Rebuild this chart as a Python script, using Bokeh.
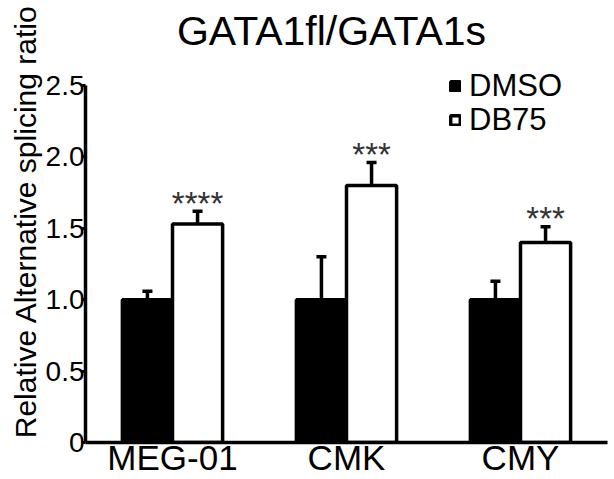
from bokeh.plotting import figure
from bokeh.models import (ColumnDataSource, FactorRange, Range1d, FixedTicker, Whisker,
                          TeeHead, Label, Legend, LegendItem)
from bokeh.transform import dodge
from bokeh.core.properties import value
from bokeh.embed import file_html
from bokeh.resources import INLINE

# ---- data ----
cells = ["MEG-01", "CMK", "CMY"]
dmso = [1.0, 1.0, 1.0]
dmso_err = [0.06, 0.30, 0.13]
db75 = [1.53, 1.80, 1.40]
db75_err = [0.09, 0.16, 0.11]
stars = ["****", "***", "***"]
y_ticks = [0, 0.5, 1.0, 1.5, 2.0, 2.5]
y_tick_labels = ["0", "0.5", "1.0", "1.5", "2.0", "2.5"]
title_text = "GATA1fl/GATA1s"
y_label = "Relative Alternative splicing ratio"
series_names = ["DMSO", "DB75"]

FONT = "Liberation Sans"

# ---- layout (pixels) ----
W, H = 614, 479
LEFT, RIGHT, BOTTOM = 85, 7, 37
FRAME_H = H - BOTTOM            # frame spans the whole height above the x axis
AXIS_TOP_PX = 85                # where 2.5 sits
Y_MAX = 2.5
y_end = Y_MAX * FRAME_H / (FRAME_H - AXIS_TOP_PX)

src = ColumnDataSource(dict(
    cell=cells,
    dmso=dmso,
    dmso_up=[v + e for v, e in zip(dmso, dmso_err)],
    db75=db75,
    db75_up=[v + e for v, e in zip(db75, db75_err)],
    stars=stars,
))

p = figure(width=W, height=H, x_range=FactorRange(*cells, range_padding=0),
           y_range=Range1d(0, y_end), output_backend="svg", toolbar_location=None,
           min_border_left=LEFT, min_border_right=RIGHT, min_border_top=0,
           min_border_bottom=BOTTOM)
p.outline_line_color = None
p.grid.visible = False
p.background_fill_color = "white"

off = 0.144
bw = 0.288
r_dmso = p.vbar(x=dodge("cell", -off, range=p.x_range), top="dmso", width=bw, source=src,
                fill_color="black", line_color="black", line_width=3.5)
r_db75 = p.vbar(x=dodge("cell", off, range=p.x_range), top="db75", width=bw, source=src,
                fill_color="white", line_color="black", line_width=3.5)

for key, o in (("dmso", -off), ("db75", off)):
    w = Whisker(base=dodge("cell", o, range=p.x_range), lower=key, upper=key + "_up",
                source=src, line_width=3.5, line_color="black", lower_head=None,
                upper_head=TeeHead(size=10, line_width=3.5, line_color="black"))
    p.add_layout(w)

p.text(x=dodge("cell", off, range=p.x_range), y="db75_up", text="stars", source=src,
       text_font=value(FONT), text_font_size="33px", text_color="#333333",
       text_align="center", text_baseline="alphabetic", y_offset=-8)

# axes
ya = p.yaxis[0]
ya.bounds = (0, Y_MAX)
ya.ticker = FixedTicker(ticks=y_ticks)
ya.major_label_overrides = {t: l for t, l in zip(y_ticks, y_tick_labels)}
ya.axis_line_width = 3.5
ya.major_tick_line_width = 3
ya.major_tick_out = 4
ya.major_tick_in = 0
ya.minor_tick_line_color = None
ya.major_label_standoff = -3
ya.major_label_text_font = FONT
ya.major_label_text_font_size = "28px"
ya.major_label_text_color = "black"
ya.axis_label = y_label
ya.axis_label_text_font = FONT
ya.axis_label_text_font_size = "30px"
ya.axis_label_text_font_style = "normal"
ya.axis_label_text_color = "black"
ya.axis_label_text_line_height = 0.8
ya.axis_label_standoff = 1

xa = p.xaxis[0]
xa.axis_line_width = 3.5
xa.major_tick_line_color = None
xa.minor_tick_line_color = None
xa.major_label_standoff = -11
xa.major_label_text_line_height = 0.8
xa.major_label_text_font = FONT
xa.major_label_text_font_size = "35px"
xa.major_label_text_color = "black"

# title (inside the frame, which reaches the top of the canvas)
p.add_layout(Label(x=331 - LEFT, y=FRAME_H - 30, x_units="screen", y_units="screen",
                   text=title_text, text_font=FONT, text_font_size="41px",
                   text_color="black", text_align="center", text_baseline="alphabetic"))

# legend: one entry per Legend so each row can be placed exactly
legend_rows = [(series_names[0], r_dmso, FRAME_H - 104),
               (series_names[1], r_db75, FRAME_H - 138)]
for name, rend, vy in legend_rows:
    lg = Legend(items=[LegendItem(label=name, renderers=[rend])],
                location=(449 - LEFT, vy), glyph_width=12, glyph_height=12,
                label_text_font=FONT, label_text_font_size="31px",
                label_text_color="black", label_height=20,
                label_standoff=8, padding=0, margin=0, spacing=0,
                border_line_color=None, background_fill_alpha=0)
    p.add_layout(lg, "center")

open("out.html", "w").write(file_html(p, INLINE))
